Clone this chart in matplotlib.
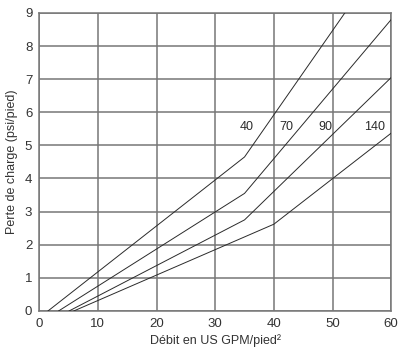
import matplotlib
matplotlib.use("Agg")
import matplotlib.pyplot as plt

plt.rcParams['font.family'] = ['Liberation Sans', 'DejaVu Sans']

# courbes de perte de charge
x_40 = [1.5, 35, 52.1]
y_40 = [0, 4.65, 9.0]
x_70 = [3.3, 35, 60]
y_70 = [0, 3.55, 8.8]
x_90 = [5.1, 35, 60]
y_90 = [0, 2.75, 7.05]
x_140 = [5.9, 40, 60]
y_140 = [0, 2.62, 5.37]

labels = ['40', '70', '90', '140']
label_x = [35.3, 42.2, 48.7, 57.2]
label_y = 5.55

xticks = [0, 10, 20, 30, 40, 50, 60]
yticks = [0, 1, 2, 3, 4, 5, 6, 7, 8, 9]

fig = plt.figure(figsize=(4.0, 3.49), dpi=100)
ax = fig.add_axes([0.098, 0.109, 0.88, 0.854])

grid_col = '#767676'
for xv in xticks:
    ax.axvline(xv, color=grid_col, lw=1.1, zorder=1)
for yv in yticks:
    ax.axhline(yv, color=grid_col, lw=1.1, zorder=1)

for xs, ys in [(x_40, y_40), (x_70, y_70), (x_90, y_90), (x_140, y_140)]:
    ax.plot(xs, ys, color='#2a2a2a', lw=0.7, zorder=3)

for lab, lx in zip(labels, label_x):
    ax.text(lx, label_y, lab, ha='center', va='center', fontsize=9,
            color='#2a2a2a', zorder=4)

ax.set_xlim(0, 60)
ax.set_ylim(0, 9)
ax.set_xticks(xticks)
ax.set_yticks(yticks)
ax.tick_params(length=0, labelsize=9.5, colors='#333333', pad=5)
for s in ax.spines.values():
    s.set_color(grid_col)
    s.set_linewidth(1.1)

ax.set_xlabel('Débit en US GPM/pied²', fontsize=9, color='#333333', labelpad=3)
ax.set_ylabel('Perte de charge (psi/pied)', fontsize=9, color='#333333', labelpad=5)

fig.savefig('out.png', dpi=100)
